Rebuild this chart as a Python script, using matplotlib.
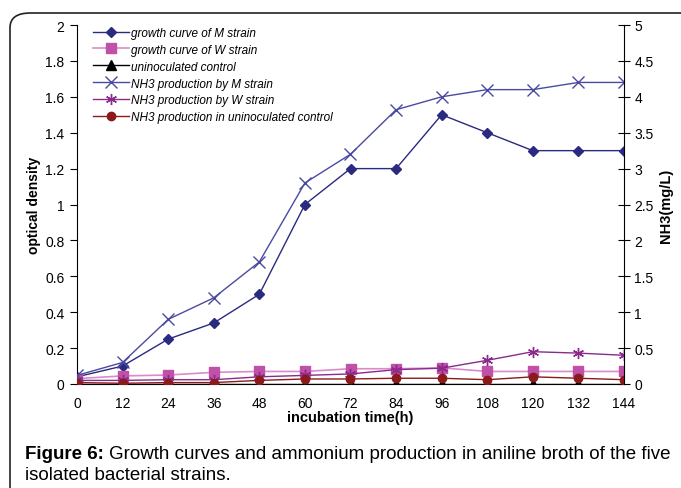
import numpy as np
import matplotlib.pyplot as plt
from matplotlib.patches import FancyBboxPatch

plt.rcParams['font.family'] = ['Liberation Sans', 'DejaVu Sans']

# incubation time (h)
hours = [0, 12, 24, 36, 48, 60, 72, 84, 96, 108, 120, 132, 144]

# optical density (left axis)
growth_m = [0.04, 0.10, 0.25, 0.34, 0.50, 1.00, 1.20, 1.20, 1.50, 1.40, 1.30, 1.30, 1.30]
growth_w = [0.03, 0.045, 0.05, 0.065, 0.07, 0.07, 0.085, 0.085, 0.09, 0.07, 0.07, 0.07, 0.07]
control = [0, 0, 0, 0, 0, 0, 0, 0, 0, 0, 0, 0, 0]

# NH3 mg/L (right axis)
nh3_m = [0.12, 0.30, 0.90, 1.20, 1.70, 2.80, 3.20, 3.82, 4.00, 4.10, 4.10, 4.20, 4.20]
nh3_w = [0.05, 0.05, 0.06, 0.06, 0.10, 0.12, 0.14, 0.20, 0.22, 0.33, 0.45, 0.43, 0.40]
nh3_ctrl = [0.02, 0.01, 0.02, 0.02, 0.05, 0.07, 0.07, 0.08, 0.08, 0.06, 0.10, 0.08, 0.06]

fig = plt.figure(figsize=(6.81, 4.89), dpi=100)

# rounded frame around the figure (right/bottom edges run off the picture)
frame = FancyBboxPatch((10/681, -0.1), 1.2, 1 - 14/489 + 0.1,
                       boxstyle="round,pad=0,rounding_size=0.03",
                       transform=fig.transFigure, fill=False,
                       edgecolor='#222222', linewidth=1.2, clip_on=False)
fig.patches.append(frame)

ax = fig.add_axes([77/681, 1 - 385/489, (624 - 77)/681, (385 - 26)/489])
ax2 = ax.twinx()

lines = []
lines += ax.plot(hours, growth_m, color='#2a2a80', marker='D', ms=5.5, lw=1,
                 label='growth curve of M strain')
lines += ax.plot(hours, growth_w, color='#d98cc8', marker='s', ms=6.5, lw=1.2,
                 mfc='#c050a8', mec='#c050a8', label='growth curve of W strain')
lines += ax.plot(hours, control, color='black', marker='^', ms=6.5, lw=1,
                 label='uninoculated control')
lines += ax2.plot(hours, nh3_m, color='#4a4aa0', marker='x', ms=8, mew=1, lw=1,
                  label='NH3 production by M strain')
lines += ax2.plot(hours, nh3_w, color='#8a2a8a', marker=(6, 2, 0), ms=8, mew=1, lw=1,
                  label='NH3 production by W strain')
lines += ax2.plot(hours, nh3_ctrl, color='#8b1a1a', marker='o', ms=6, lw=1,
                  label='NH3 production in uninoculated control')

ax.set_xlim(0, 144)
ax.set_ylim(0, 2)
ax2.set_ylim(0, 5)
ax.set_xticks(hours)
ax.set_yticks(np.arange(0, 2.01, 0.2))
ax.set_yticklabels(['0', '0.2', '0.4', '0.6', '0.8', '1', '1.2', '1.4', '1.6', '1.8', '2'])
ax2.set_yticks(np.arange(0, 5.01, 0.5))
ax2.set_yticklabels(['0', '0.5', '1', '1.5', '2', '2.5', '3', '3.5', '4', '4.5', '5'])

for a in (ax, ax2):
    a.spines['top'].set_visible(False)
ax.spines['right'].set_visible(False)
ax2.spines['left'].set_visible(False)
ax2.spines['bottom'].set_visible(False)

ax.tick_params(axis='x', length=0, pad=9, labelsize=10)
ax.tick_params(axis='y', length=5, direction='out', labelsize=10, pad=4)
ax2.tick_params(axis='y', length=8, direction='inout', labelsize=10)

ax.set_xlabel('incubation time(h)', fontweight='bold', fontsize=10.5, labelpad=0)
ax.set_ylabel('optical density', fontweight='bold', fontsize=10, labelpad=3)
ax2.set_ylabel('NH3(mg/L)', fontweight='bold', fontsize=10.5, labelpad=4)

ax.legend(handles=lines, loc='upper left', bbox_to_anchor=(0.01, 1.025),
          frameon=False, prop={'style': 'italic', 'size': 8.5},
          handlelength=3.0, handletextpad=0.2, labelspacing=0.42)

# caption: bold lead-in, regular text placed right after it
fig.canvas.draw()
lead = fig.text(25/681, 1 - 455/489, 'Figure 6:', fontsize=13.5, fontweight='bold', va='center')
bb = lead.get_window_extent(renderer=fig.canvas.get_renderer())
fig.text(bb.x1/681 + 5/681, 1 - 455/489,
         'Growth curves and ammonium production in aniline broth of the five',
         fontsize=13.5, va='center')
fig.text(25/681, 1 - 476/489, 'isolated bacterial strains.', fontsize=13.5, va='center')

fig.savefig('out.png', dpi=100)
